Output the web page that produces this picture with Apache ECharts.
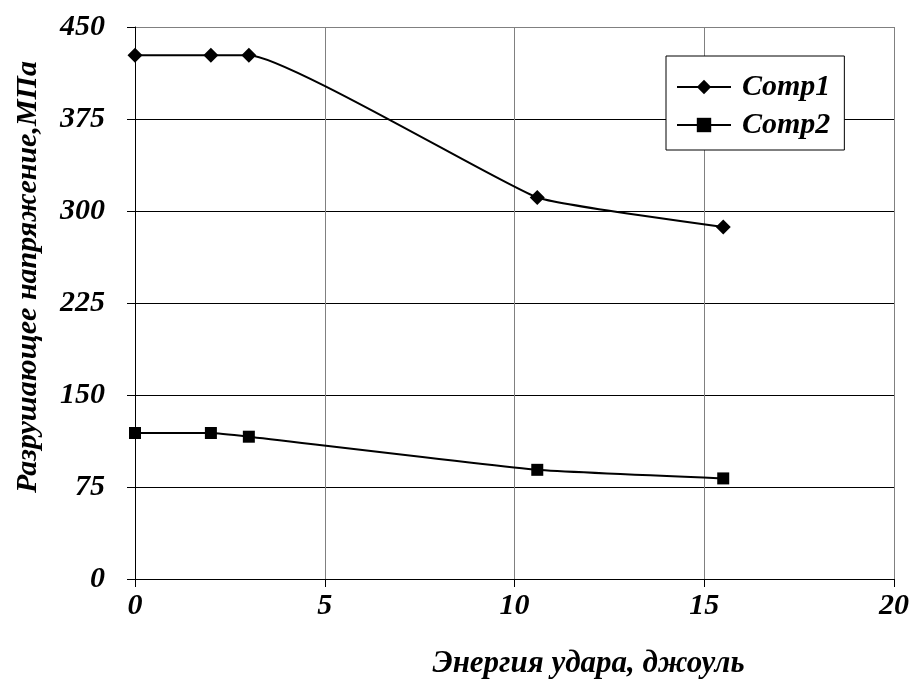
<!DOCTYPE html>
<html><head><meta charset="utf-8">
<script src="https://cdn.jsdelivr.net/npm/echarts@6/dist/echarts.min.js"></script>
<style>html,body{margin:0;padding:0;background:#fff}#c{width:912px;height:684px}</style>
</head><body><div id="c"></div>
<script>
const xTicks = [0, 5, 10, 15, 20];
const yTicks = [0, 75, 150, 225, 300, 375, 450];
const comp1X = [0, 2, 3, 10.6, 15.5];
const comp1Y = [427, 427, 427, 311, 287];
const comp2X = [0, 2, 3, 10.6, 15.5];
const comp2Y = [119, 119, 116, 89, 82];
const names = ['Comp1', 'Comp2'];
const xTitle = 'Энергия удара, джоуль';
const yTitle = 'Разрушающее напряжение,МПа';

const font = {fontFamily: 'Liberation Serif', fontWeight: 'bold', fontStyle: 'italic', color: '#000'};
const chart = echarts.init(document.getElementById('c'));
chart.setOption({
  animation: false,
  backgroundColor: '#fff',
  grid: {left: 135, right: 14, top: 27, bottom: 104, containLabel: false},
  legend: {
    left: 666, top: 56, orient: 'vertical', backgroundColor: '#fff',
    borderColor: '#000', borderWidth: 1, padding: [16, 14, 10, 10], itemGap: 8,
    itemWidth: 54, itemHeight: 18,
    textStyle: Object.assign({fontSize: 30, padding: [0, 0, 0, 6]}, font),
    data: names
  },
  xAxis: {
    type: 'value', min: xTicks[0], max: xTicks[xTicks.length - 1], interval: 5,
    name: xTitle, nameLocation: 'middle', nameGap: 69,
    nameTextStyle: Object.assign({fontSize: 31, padding: [0, 0, 0, 148]}, font),
    axisLine: {lineStyle: {color: '#000', width: 1}},
    axisTick: {show: true, length: 8, lineStyle: {color: '#000'}},
    axisLabel: Object.assign({fontSize: 30, margin: 12}, font),
    splitLine: {show: true, lineStyle: {color: '#808080', width: 1}}
  },
  yAxis: {
    type: 'value', min: yTicks[0], max: yTicks[yTicks.length - 1], interval: 75,
    name: yTitle, nameLocation: 'middle', nameGap: 92, nameRotate: 90,
    nameTextStyle: Object.assign({fontSize: 30, padding: [0, 0, 0, 52]}, font),
    axisLine: {show: true, lineStyle: {color: '#000', width: 1}},
    axisTick: {show: true, length: 8, lineStyle: {color: '#000'}},
    axisLabel: Object.assign({fontSize: 30, margin: 30}, font),
    splitLine: {show: true, lineStyle: {color: ['#000', '#000', '#000', '#000', '#000', '#000', '#808080'], width: 1}}
  },
  series: [
    {
      name: names[0], type: 'line', smooth: 0.12,
      data: comp1X.map((x, i) => [x, comp1Y[i]]),
      symbol: 'diamond', symbolSize: 15,
      itemStyle: {color: '#000'}, lineStyle: {color: '#000', width: 2}
    },
    {
      name: names[1], type: 'line', smooth: 0.12,
      data: comp2X.map((x, i) => [x, comp2Y[i]]),
      symbol: 'rect', symbolSize: 12,
      itemStyle: {color: '#000'}, lineStyle: {color: '#000', width: 2}
    }
  ]
});
</script></body></html>
